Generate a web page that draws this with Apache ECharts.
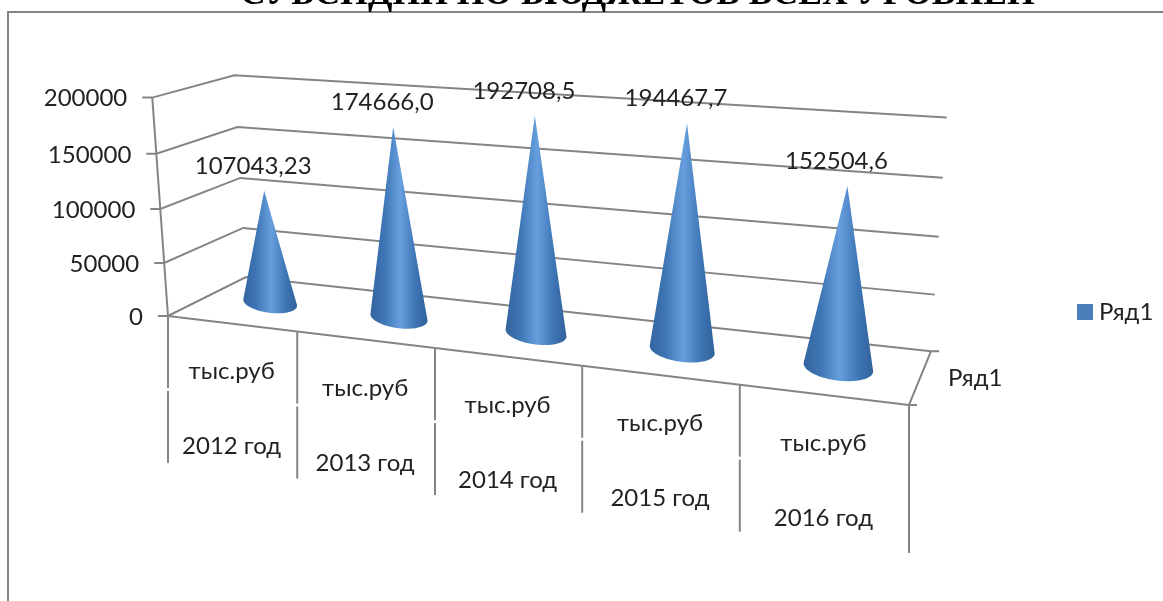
<!DOCTYPE html>
<html>
<head>
<meta charset="utf-8">
<style>
  html, body { margin: 0; padding: 0; background: #fff; overflow: hidden; }
  /* the original is a soft scan */
  #chart { width: 1163px; height: 601px; filter: blur(0.4px); }
</style>
</head>
<body>
<div id="chart"></div>
<script src="https://cdn.jsdelivr.net/npm/echarts@6/dist/echarts.min.js"></script>
<script>
const titleText = 'СУБСИДИИ ПО БЮДЖЕТОВ ВСЕХ УРОВНЕЙ'
const seriesName = 'Ряд1'
const years = ['2012 год', '2013 год', '2014 год', '2015 год', '2016 год']
const units = ['тыс.руб', 'тыс.руб', 'тыс.руб', 'тыс.руб', 'тыс.руб']
const values = [107043.23, 174666.0, 192708.5, 194467.7, 152504.6]
const valueLabels = ['107043,23', '174666,0', '192708,5', '194467,7', '152504,6']
const yTicks = [0, 50000, 100000, 150000, 200000]

const LINE = '#848484'
const TEXT = '#222222'
const FONT = 'Lato, "Open Sans", sans-serif'
const FONT_SIZE = 24

// flat grid the axes scale into; the perspective below bends it into the box
const GRID = { left: 168, top: 98, width: 741, height: 218 }

// s: along categories, v: height, d: depth, all 0..1
function project(s, v, d) {
  const w = 1 - 0.155 * s - 0.038 * v + 0.0866 * d
  return [
    (168 + 600.1 * s - 21.5 * v + 99.3 * d) / w,
    (316 + 26.2 * s - 222.1 * v - 15 * d) / w,
  ]
}

function toUnit(p) {
  return [(p[0] - GRID.left) / GRID.width, (GRID.top + GRID.height - p[1]) / GRID.height]
}

function line(points, width) {
  return {
    type: 'polyline',
    shape: { points },
    style: { stroke: LINE, lineWidth: width || 2, fill: null },
  }
}

function label(text, x, y, align) {
  return {
    type: 'text',
    x,
    y,
    style: {
      text,
      fill: TEXT,
      font: `${FONT_SIZE}px ${FONT}`,
      align: align || 'center',
      verticalAlign: 'middle',
    },
  }
}

function convexHull(points) {
  const pts = points.slice().sort((a, b) => a[0] - b[0] || a[1] - b[1])
  const cross = (o, a, b) => (a[0] - o[0]) * (b[1] - o[1]) - (a[1] - o[1]) * (b[0] - o[0])
  const lower = []
  const upper = []
  pts.forEach((p) => {
    while (lower.length > 1 && cross(lower[lower.length - 2], lower[lower.length - 1], p) <= 0) lower.pop()
    lower.push(p)
  })
  pts.slice().reverse().forEach((p) => {
    while (upper.length > 1 && cross(upper[upper.length - 2], upper[upper.length - 1], p) <= 0) upper.pop()
    upper.push(p)
  })
  return lower.slice(0, -1).concat(upper.slice(0, -1))
}

// back walls: one bent line per tick, plus tick mark and tick label
function renderWall(params, api) {
  const i = params.dataIndex
  const v = toUnit(api.coord([0, api.value(1)]))[1]
  const front = project(0, v, 0)
  const children = [
    line([[front[0] - 10, front[1]], front, project(0, v, 1), project(1, v, 1)]),
    label(String(yTicks[i]), front[0] - 25, front[1] + 1, 'right'),
  ]
  return { type: 'group', children }
}

// floor edges, the value axis and the two-row category table
function renderTable(params, api) {
  const i = params.dataIndex
  const band = api.size([1, 0])[0] / GRID.width
  const s = toUnit(api.coord([i, 0]))[0]
  const left = project(s - band / 2, 0, 0)
  const right = project(s + band / 2, 0, 0)
  const children = [
    line([left, right]),
    line([left, [left[0], left[1] + 72]]),
    line([[left[0], left[1] + 75], [left[0], left[1] + 147]]),
    label(units[i], (left[0] + right[0]) / 2 - 1, (left[1] + right[1]) / 2 + 48),
    label(years[i], (left[0] + right[0]) / 2 - 1, (left[1] + right[1]) / 2 + 123),
  ]
  if (i === 0) {
    children.push(line([project(0, 0, 0), project(0, 1, 0)]))
  }
  if (i === years.length - 1) {
    const back = project(1, 0, 1)
    children.push(
      line([right, [right[0], right[1] + 148]]),
      line([right, back]),
      line([right, [right[0] + 8, right[1]]]),
      line([back, [back[0] + 8, back[1]]]),
      label(seriesName, back[0] + 17, back[1] + 27, 'left')
    )
  }
  return { type: 'group', children }
}

function renderCone(params, api) {
  const i = params.dataIndex
  const band = api.size([1, 0])[0] / GRID.width
  const [s, v] = toUnit(api.coord([i, api.value(1)]))
  const center = project(s, 0, 0.5)
  const apex = project(s, v, 0.5)
  const a = project(s - band * 0.215, 0, 0.5)
  const b = project(s + band * 0.215, 0, 0.5)
  const rx = (b[0] - a[0]) / 2
  const tilt = (b[1] - a[1]) / (b[0] - a[0])
  const ry = rx * 0.38
  const outline = [apex]
  for (let k = 0; k < 72; k++) {
    const t = (k / 72) * Math.PI * 2
    const dx = rx * Math.cos(t)
    outline.push([center[0] + dx, center[1] + dx * tilt + ry * Math.sin(t)])
  }
  return {
    type: 'group',
    children: [
      {
        type: 'polygon',
        shape: { points: convexHull(outline) },
        style: {
          fill: new echarts.graphic.LinearGradient(0, 0, 1, 0, [
            { offset: 0, color: '#33659e' },
            { offset: 0.25, color: '#3f76b6' },
            { offset: 0.52, color: '#669ede' },
            { offset: 0.78, color: '#3f76b6' },
            { offset: 1, color: '#31629a' },
          ]),
        },
      },
      label(valueLabels[i], apex[0] - 11, apex[1] - 25),
    ],
  }
}

const chart = echarts.init(document.getElementById('chart'))
chart.setOption({
  animation: false,
  backgroundColor: '#fff',
  title: {
    text: titleText,
    left: 235,
    top: -28,
    textStyle: { fontFamily: '"Liberation Serif", serif', fontWeight: 'bold', fontSize: 35.6, color: '#000' },
  },
  legend: {
    data: [seriesName],
    left: 1072,
    top: 295,
    icon: 'rect',
    itemWidth: 16,
    itemHeight: 16,
    itemGap: 0,
    textStyle: { fontFamily: FONT, fontSize: FONT_SIZE, color: TEXT, padding: [0, 0, 0, 1] },
  },
  graphic: [
    {
      type: 'rect',
      shape: { x: 8, y: 12, width: 1400, height: 900 },
      style: { fill: null, stroke: LINE, lineWidth: 2 },
      silent: true,
    },
  ],
  grid: GRID,
  xAxis: { type: 'category', data: years, show: false },
  yAxis: { type: 'value', min: 0, max: 200000, interval: 50000, show: false },
  series: [
    {
      name: 'walls',
      type: 'custom',
      renderItem: renderWall,
      data: yTicks.map((v) => [0, v]),
      encode: { x: 0, y: 1 },
      silent: true,
      z: 1,
    },
    {
      name: 'table',
      type: 'custom',
      renderItem: renderTable,
      data: years.map((_, i) => [i, 0]),
      encode: { x: 0, y: 1 },
      silent: true,
      z: 1,
    },
    {
      name: seriesName,
      type: 'custom',
      renderItem: renderCone,
      data: values.map((v, i) => [i, v]),
      encode: { x: 0, y: 1 },
      itemStyle: { color: '#4a7ebb' },
      z: 2,
    },
  ],
})
</script>
</body>
</html>
